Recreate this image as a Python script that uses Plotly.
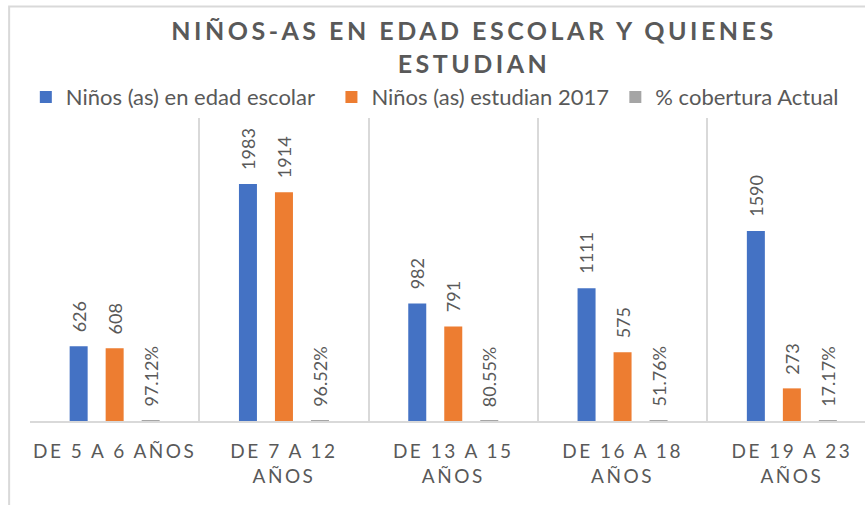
import plotly.graph_objects as go

categories = ["DE 5 A 6 AÑOS", "DE 7 A 12<br>AÑOS", "DE 13 A 15<br>AÑOS", "DE 16 A 18<br>AÑOS", "DE 19 A 23<br>AÑOS"]
series_names = ["Niños (as) en edad escolar", "Niños (as) estudian 2017", "% cobertura Actual"]
edad_escolar = [626, 1983, 982, 1111, 1590]
estudian_2017 = [608, 1914, 791, 575, 273]
cobertura = [0.9712, 0.9652, 0.8055, 0.5176, 0.1717]
colors = ["#4472C4", "#ED7D31", "#A5A5A5"]

FONT = "Lato"
GRAY = "#595959"
BARGAP = 0.362
BARGROUPGAP = 0.5

x = list(range(len(categories)))
series = [edad_escolar, estudian_2017, cobertura]
legends = ["legend", "legend2", "legend3"]

fig = go.Figure()
for k, (name, vals, col) in enumerate(zip(series_names, series, colors)):
    fig.add_trace(go.Bar(x=x, y=vals, name=name, marker=dict(color=col, line=dict(width=0)),
                         legend=legends[k], hoverinfo="skip"))

# data labels as rotated annotations above each bar
slot = (1 - BARGAP) / len(series)
annotations = []
for k, vals in enumerate(series):
    for i, v in enumerate(vals):
        txt = f"{v*100:.2f}%" if k == 2 else f"{v}"
        annotations.append(dict(x=x[i] + (k - 1) * slot, y=v, xref="x", yref="y", text=txt,
                                textangle=-90, showarrow=False, xanchor="center", yanchor="bottom",
                                yshift=12, font=dict(family=FONT, size=18, color=GRAY)))

fig.update_layout(
    width=865, height=505,
    margin=dict(l=30, r=0, t=118, b=84),
    paper_bgcolor="white", plot_bgcolor="white",
    barmode="group", bargap=BARGAP, bargroupgap=BARGROUPGAP,
    title=dict(text="NIÑOS-AS EN EDAD ESCOLAR Y QUIENES<br>ESTUDIAN", x=474/865, xanchor="center",
               y=1 - 40/505, yanchor="middle", xref="container", yref="container",
               font=dict(family=FONT, size=25, color=GRAY, weight="bold")),
    xaxis=dict(range=[-0.5, 4.432], tickmode="array", tickvals=x, ticktext=categories,
               showgrid=False, zeroline=False, showline=True, linecolor="#d9d9d9", linewidth=2,
               ticks="", ticklabelstandoff=12,
               tickfont=dict(family=FONT, size=19, color=GRAY),
               minor=dict(tickmode="linear", tick0=-0.5, dtick=1, showgrid=True,
                          gridcolor="#d9d9d9", gridwidth=1.5)),
    yaxis=dict(range=[0, 2535], visible=False, showgrid=False, zeroline=False),
    showlegend=True,
    annotations=annotations,
    shapes=[dict(type="rect", xref="paper", yref="paper", x0=-0.025, x1=1.01, y0=-0.3, y1=1.368,
                 line=dict(color="#d9d9d9", width=2), fillcolor="rgba(0,0,0,0)", layer="below")],
)

legend_x = [-0.005, 0.361, 0.701]
for k, lg in enumerate(legends):
    fig.update_layout({lg: dict(x=legend_x[k], xanchor="left", y=1.069, yanchor="middle",
                                orientation="h", bgcolor="rgba(0,0,0,0)",
                                font=dict(family=FONT, size=22, color=GRAY))})

post = """
var s=document.createElement('style');
s.textContent='body{margin:0;} .xtick text{letter-spacing:2.5px;} .gtitle{letter-spacing:3.5px;}';
document.head.appendChild(s);
"""
fig.write_html("out.html", post_script=post, config={"displayModeBar": False})
